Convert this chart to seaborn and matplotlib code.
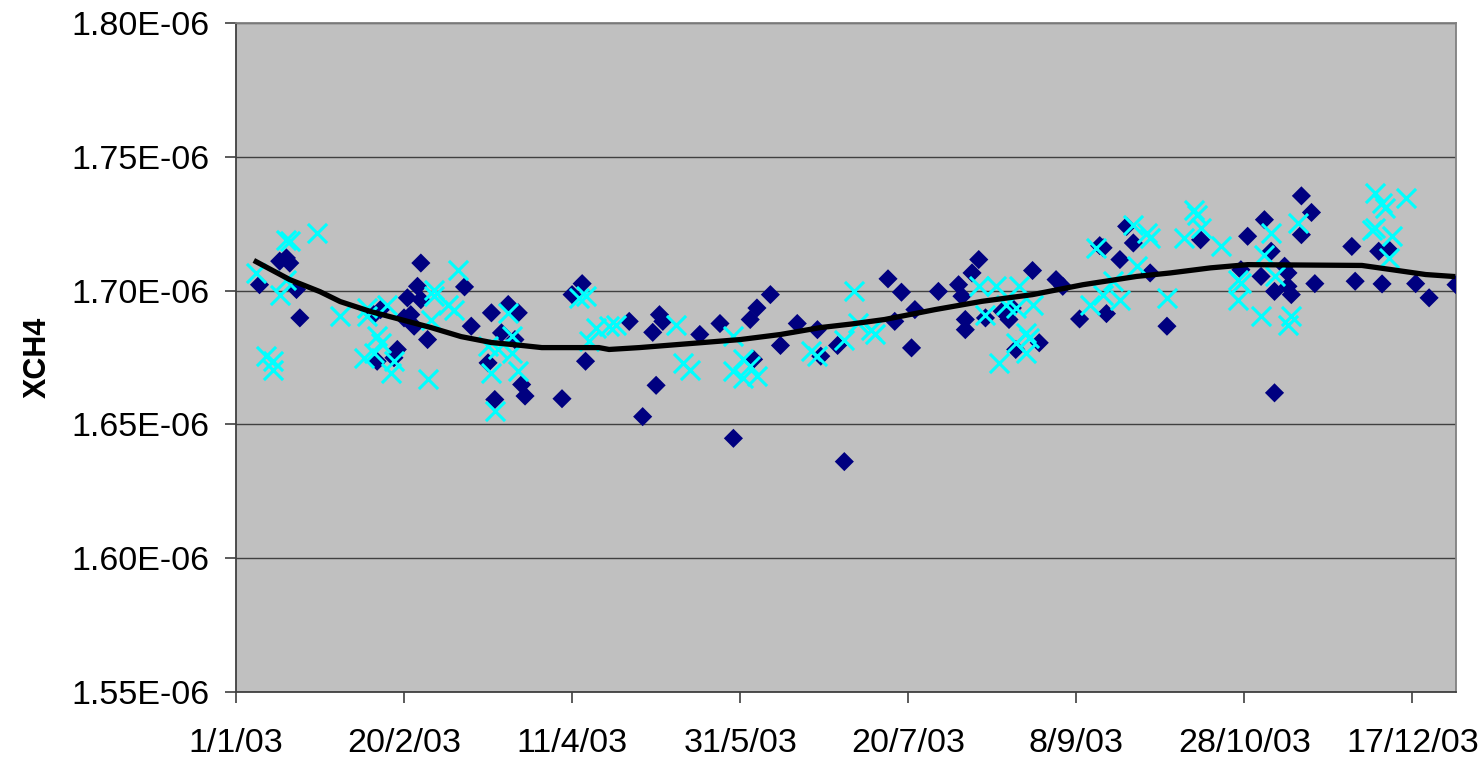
import numpy as np
import pandas as pd
import matplotlib
matplotlib.use("Agg")
import matplotlib.pyplot as plt
import seaborn as sns
from matplotlib.ticker import FuncFormatter

# ── Data (day offset from 1/1/03, XCH4 in units of 1e-6) ──
start = pd.Timestamp("2003-01-01")

diamond_days = [7, 13, 15, 16, 18, 19, 55, 54, 51, 55, 50, 52, 53, 57, 41, 43, 42, 48, 47,
                68, 70, 76, 81, 84, 79, 83, 75, 85, 86, 77,
                97, 103, 100, 104, 117, 126, 127, 124, 125, 121, 138, 144, 148, 153, 155,
                159, 154, 162, 167, 173, 174, 179, 181,
                194, 198, 202, 196, 201, 209, 215, 216, 217, 217, 219, 221, 223, 228, 230,
                231, 232, 239, 237, 244, 246, 251, 259, 263, 257, 258, 267, 265, 272, 277,
                287, 301, 306, 308, 299, 305, 312, 313, 309, 313, 314, 317, 320, 317, 309,
                321, 332, 333, 340, 343, 341, 351, 355, 363]
diamond_vals = [1.7022, 1.7110, 1.7122, 1.7103, 1.7004, 1.6898, 1.7103, 1.7016, 1.6973, 1.6966,
                1.6898, 1.6910, 1.6867, 1.6817, 1.6910, 1.6929, 1.6736, 1.6780, 1.6749,
                1.7014, 1.6867, 1.6917, 1.6948, 1.6917, 1.6842, 1.6817, 1.6730, 1.6649, 1.6606, 1.6593,
                1.6596, 1.7026, 1.6985, 1.6736, 1.6885, 1.6910, 1.6885, 1.6844, 1.6646, 1.6529,
                1.6836, 1.6877, 1.6448, 1.6892, 1.6935, 1.6985, 1.6743, 1.6795, 1.6877, 1.6854,
                1.6755, 1.6795, 1.6361,
                1.7044, 1.6994, 1.6929, 1.6885, 1.6786, 1.6997, 1.7022, 1.6979, 1.6892, 1.6854,
                1.7066, 1.7116, 1.6898, 1.6923, 1.6892, 1.6935, 1.6780, 1.6805, 1.7075, 1.7041,
                1.7016, 1.6894, 1.6914, 1.7116, 1.7168, 1.7160, 1.7178, 1.7240, 1.7066, 1.6867,
                1.7190, 1.7203, 1.7265, 1.7147, 1.7078, 1.7053, 1.7091, 1.7066, 1.6997, 1.7016,
                1.6985, 1.7354, 1.7292, 1.7209, 1.6618, 1.7026, 1.7165, 1.7035, 1.7147, 1.7153,
                1.7025, 1.7026, 1.6973, 1.7022]

cross_days = [6, 15, 16, 24, 13, 15, 9, 11, 11, 31, 39, 39, 45, 42, 43, 38, 41, 47, 46,
              59, 59, 58, 63, 65, 66, 57, 75, 78, 76, 81, 82, 82, 84, 77,
              102, 104, 105, 107, 111, 113, 131, 133, 135, 148, 148, 151, 151, 153, 155,
              171, 173, 181, 184,
              185, 189, 190, 221, 226, 233, 223, 229, 232, 237, 235, 236, 232, 235, 227,
              254, 258, 261, 263, 256, 268, 267, 271, 272, 277,
              285, 286, 282, 287, 293, 298, 299, 298, 305, 308, 306, 309, 314, 313, 316,
              339, 341, 342, 348, 338, 339, 344, 343]
cross_vals = [1.7066, 1.7190, 1.7184, 1.7215, 1.6985, 1.7041, 1.6755, 1.6736, 1.6705, 1.6904,
              1.6935, 1.6904, 1.6948, 1.6829, 1.6805, 1.6749, 1.6768, 1.6736, 1.6693,
              1.7004, 1.6979, 1.6892, 1.6948, 1.6929, 1.7078, 1.6668, 1.6792, 1.6780, 1.6693,
              1.6917, 1.6829, 1.6768, 1.6699, 1.6550,
              1.6973, 1.6979, 1.6811, 1.6861, 1.6867, 1.6873, 1.6873, 1.6730, 1.6705, 1.6829,
              1.6699, 1.6743, 1.6674, 1.6718, 1.6680, 1.6774, 1.6755, 1.6817, 1.6997,
              1.6879, 1.6854, 1.6836, 1.7016, 1.7016, 1.7016, 1.6910, 1.6948, 1.6935, 1.6948,
              1.6842, 1.6823, 1.6805, 1.6768, 1.6730, 1.6948, 1.6985, 1.7035, 1.6966, 1.7159,
              1.7091, 1.7246, 1.7215, 1.7197, 1.6973,
              1.7302, 1.7284, 1.7197, 1.7234, 1.7165, 1.7041, 1.7029, 1.6966, 1.6904, 1.7215,
              1.7134, 1.7056, 1.6904, 1.6873, 1.7253, 1.7365, 1.7327, 1.7309, 1.7346, 1.7228,
              1.7235, 1.7203, 1.7122]

trend_days = [6, 16, 25, 31, 40, 49, 58, 67, 76, 85, 91, 99, 108, 111, 120, 132, 150, 162,
              174, 183, 193, 208, 222, 237, 252, 268, 278, 290, 301, 335, 344, 354, 362]
trend_vals = [1.7108, 1.7041, 1.6996, 1.6959, 1.6922, 1.6892, 1.6862, 1.6828, 1.6806, 1.6795,
              1.6787, 1.6787, 1.6787, 1.6780, 1.6787, 1.6799, 1.6817, 1.6836, 1.6862, 1.6875,
              1.6892, 1.6929, 1.6960, 1.6985, 1.7022, 1.7053, 1.7066, 1.7085, 1.7097, 1.7094,
              1.7078, 1.7060, 1.7053]

tick_days = [0, 50, 100, 150, 200, 250, 300, 350]
y_ticks = [1.55, 1.60, 1.65, 1.70, 1.75, 1.80]


def to_frame(days, vals):
    return pd.DataFrame({
        "date": [start + pd.Timedelta(days=d) for d in days],
        "xch4": [v * 1e-6 for v in vals],
    })


df_diamond = to_frame(diamond_days, diamond_vals)
df_cross = to_frame(cross_days, cross_vals)
df_trend = to_frame(trend_days, trend_vals)

# ── Figure ──
fig = plt.figure(figsize=(14.81, 7.58), dpi=100)
ax = fig.add_axes([236 / 1481, 1 - 692 / 758, 1220 / 1481, 669 / 758])
ax.set_facecolor("#C0C0C0")
font = "Liberation Sans"

sns.scatterplot(data=df_diamond, x="date", y="xch4", marker="D", s=95,
                color="#000080", edgecolor="none", ax=ax, zorder=3)
sns.scatterplot(data=df_cross, x="date", y="xch4", marker="x", s=190,
                color="#00FFFF", linewidth=2.2, ax=ax, zorder=4)
sns.lineplot(data=df_trend, x="date", y="xch4", color="black", linewidth=3.8,
             ax=ax, zorder=5)

ax.set_xlim(start, start + pd.Timedelta(days=363))
ax.set_ylim(1.55e-6, 1.80e-6)

ax.set_yticks([v * 1e-6 for v in y_ticks])
ax.yaxis.set_major_formatter(FuncFormatter(lambda v, p: f"{v:.2E}"))
xt = [start + pd.Timedelta(days=d) for d in tick_days]
ax.set_xticks(xt)
ax.set_xticklabels([f"{d.day}/{d.month}/{d.strftime('%y')}" for d in xt])

ax.grid(axis="y", color="#404040", linewidth=1.0)
ax.grid(axis="x", visible=False)
ax.set_axisbelow(True)

for side in ["left", "bottom"]:
    ax.spines[side].set_color("#404040")
    ax.spines[side].set_linewidth(1.3)
for side in ["top", "right"]:
    ax.spines[side].set_color("#808080")
    ax.spines[side].set_linewidth(1.3)

ax.tick_params(axis="both", length=8, width=1.2, color="#404040",
               labelsize=24.5, labelcolor="black")
ax.tick_params(axis="y", pad=11)
ax.tick_params(axis="x", pad=18)
for lbl in ax.get_xticklabels() + ax.get_yticklabels():
    lbl.set_fontfamily(font)

ax.set_xlabel("")
ax.set_ylabel("XCH4", fontsize=22, fontweight="bold", fontfamily=font)
ax.yaxis.set_label_coords(-0.15, 0.5)

fig.savefig("out.png", dpi=100)
